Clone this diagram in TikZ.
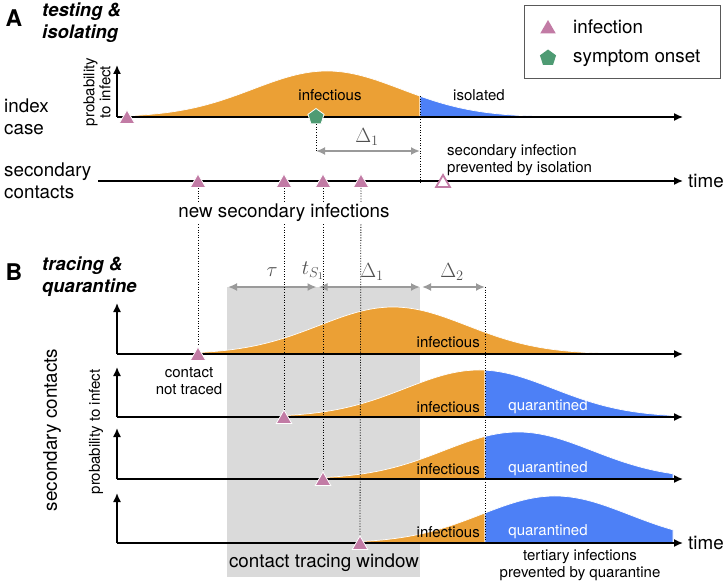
\documentclass[tikz,border=0pt]{standalone}
\usepackage{fix-cm}
\usepackage{fontspec}
\setmainfont{TeX Gyre Heros}
\usetikzlibrary{arrows.meta,shapes.geometric}
\definecolor{orng}{HTML}{EBA035}
\definecolor{blu}{HTML}{4D80F6}
\definecolor{pnk}{HTML}{C27BA5}
\definecolor{grn}{HTML}{4E9B73}
\definecolor{windowgray}{HTML}{DADADA}
\definecolor{dimgray}{HTML}{9A9A9A}
\definecolor{lblgray}{HTML}{505050}
\newcommand{\bigf}{\fontsize{18.8}{22}\selectfont}
\newcommand{\smf}{\fontsize{15}{16.5}\selectfont}
\newcommand{\mathf}{\fontsize{20.5}{23}\selectfont}
\newcommand{\crv}[6]{%
  \filldraw[fill=#1, draw=white, line width=0.7pt] (#5,#2) -- plot[domain=#5:#6, samples=80] (\x,{#2-#4*exp(-0.5*((\x-#3)/74)^2)}) -- (#6,#2) -- cycle;}
\begin{document}
\begin{tikzpicture}[x=1pt,y=-1pt,
  axis/.style={line width=1.5pt, -{Latex[length=9pt,width=8pt]}},
  dimarrow/.style={draw=dimgray, line width=1.8pt, {Latex[length=9pt,width=8pt]}-{Latex[length=9pt,width=8pt]}},
  dotline/.style={line width=0.8pt, dash pattern=on 1pt off 1.6pt},
  inf/.style={regular polygon, regular polygon sides=3, fill=pnk, draw=white, line width=0.8pt, minimum size=18pt, inner sep=0pt},
  infhollow/.style={regular polygon, regular polygon sides=3, fill=white, draw=pnk, line width=1.8pt, minimum size=16pt, inner sep=0pt},
  onset/.style={regular polygon, regular polygon sides=5, fill=grn, draw=white, line width=0.8pt, minimum size=17pt, inner sep=0pt},
  bigtxt/.style={font=\bigf, inner sep=1pt},
  smtxt/.style={font=\smf, inner sep=1pt},
  mlabel/.style={font=\mathf, text=lblgray, inner sep=1pt},
  paneltag/.style={font=\fontsize{23}{24}\selectfont\bfseries, inner sep=0pt},
  paneltitle/.style={font=\fontsize{18.5}{22}\selectfont\bfseries\itshape, align=left, anchor=west, inner sep=0pt}
]
\useasboundingbox (0,0) rectangle (727,585);

% ---------- gray contact tracing window ----------
\fill[windowgray] (227,287) rectangle (420,577);

% ---------- curves ----------
\crv{orng}{117}{327}{46}{127}{420}
\crv{blu}{117}{327}{46}{420}{532}
\crv{orng}{354}{393}{47}{198}{603}
\crv{orng}{417}{479}{47}{284}{485}
\crv{blu}{417}{479}{47}{485}{673}
\crv{orng}{479}{518}{47}{323}{485}
\crv{blu}{479}{518}{47}{485}{673}
\crv{orng}{543}{555}{47}{360}{485}
\crv{blu}{543}{555}{47}{485}{673}

% ---------- axes ----------
\coordinate (Ao) at (117,117); \coordinate (Atop) at (117,65); \coordinate (Aend) at (683,117);
\draw[axis] (Ao) -- (Atop);
\draw[axis] (Ao) -- (Aend);
\coordinate (So) at (98,181); \coordinate (Send) at (683,181);
\draw[axis] (So) -- (Send);
\foreach \r/\yb/\yt in {1/354/303, 2/417/367, 3/479/428, 4/543/493}{
  \coordinate (B\r o) at (117,\yb);
  \coordinate (B\r top) at (117,\yt);
  \coordinate (B\r end) at (683,\yb);
  \draw[axis] (B\r o) -- (B\r top);
  \draw[axis] (B\r o) -- (B\r end);
}

% ---------- dimension arrows ----------
\coordinate (dAl) at (316,151); \coordinate (dAr) at (420,151);
\draw[dimarrow] (dAl) -- (dAr);
\coordinate (tauL) at (228,287); \coordinate (tauR) at (316.5,287);
\coordinate (d1L) at (318.5,287); \coordinate (d1R) at (420,287);
\coordinate (d2L) at (422,287); \coordinate (d2R) at (485,287);
\draw[dimarrow] (tauL) -- (tauR);
\draw[dimarrow] (d1L) -- (d1R);
\draw[dimarrow] (d2L) -- (d2R);

% ---------- markers ----------
\node[inf] (a0) at (127,119) {};
\node[onset] (pent) at (316,117) {};
\node[inf] (s1) at (198,183) {};
\node[inf] (s2) at (284,183) {};
\node[inf] (s3) at (323,183) {};
\node[inf] (s4) at (361,183) {};
\node[infhollow] (s5) at (443,183) {};
\node[inf] (b1) at (198,356) {};
\node[inf] (b2) at (284,419) {};
\node[inf] (b3) at (323,481) {};
\node[inf] (b4) at (360,545) {};

% ---------- dotted guide lines ----------
\coordinate (isoTop) at (420,96); \coordinate (isoBot) at (420,182);
\draw[dotline] (isoTop) -- (isoBot);
\draw[dotline] (pent.south) -- (dAl);
\coordinate (qTop) at (485,287); \coordinate (qBot) at (485,543);
\draw[dotline] (qTop) -- (qBot);
\draw[dotline] (s1.south) -- (b1.north);
\draw[dotline] (s2.south) -- (b2.north);
\draw[dotline] (s3.south) -- (b3.north);
\draw[dotline] (s4.south) -- (b4.north);

% ---------- legend ----------
\node[draw=black!65, line width=0.8pt, minimum width=196pt, minimum height=73pt, inner sep=0pt] (legend) at (622,41.5) {};
\node[inf, draw=none] (legInf) at (548,29) {};
\node[onset, draw=none] (legOns) at (548,58) {};
\node[bigtxt, anchor=west] (legInfT) at (572,27) {infection};
\node[bigtxt, anchor=west] (legOnsT) at (572,58) {symptom onset};

% ---------- panel A texts ----------
\node[paneltag] (tagA) at (14,18) {A};
\node[paneltitle] (titA) at (42,22.5) {testing \&\\isolating};
\node[bigtxt, anchor=west, align=left] (idx) at (3,117) {index\\case};
\node[bigtxt, anchor=west, align=left] (sec) at (3,181) {secondary\\contacts};
\node[smtxt, rotate=90, align=center, font=\fontsize{15}{16}\selectfont] (probA) at (97,92) {probability\\to infect};
\node[smtxt] (infA) at (330,95) {infectious};
\node[smtxt, anchor=west] (isoA) at (452,95) {isolated};
\node[smtxt, anchor=west, align=left] (prevA) at (446,160) {secondary infection\\prevented by isolation};
\node[mlabel] (DA) at (367,137) {$\Delta_1$};
\node[bigtxt, anchor=west] (timeA) at (687,181) {time};
\node[bigtxt, fill=white, inner sep=2pt] (newsec) at (284,213) {new secondary infections};

% ---------- panel B texts ----------
\node[paneltag] (tagB) at (14,272) {B};
\node[paneltitle] (titB) at (42,276.5) {tracing \&\\quarantine};
\node[bigtxt, rotate=90] (secB) at (52,430) {secondary contacts};
\node[smtxt, rotate=90] (probB) at (96,432) {probability to infect};
\node[smtxt, align=center, font=\fontsize{15}{17}\selectfont] (nottr) at (189,381) {contact\\not traced};
\node[mlabel] (tauT) at (272,272) {$\tau$};
\node[mlabel] (tsT) at (313,271) {$t_{S_1}$};
\node[mlabel] (D1B) at (372,272) {$\Delta_1$};
\node[mlabel] (D2B) at (452,272) {$\Delta_2$};
\node[smtxt, anchor=east] (if1) at (481,342) {infectious};
\node[smtxt, anchor=east] (if2) at (481,407) {infectious};
\node[smtxt, anchor=east] (if3) at (481,469) {infectious};
\node[smtxt, anchor=east] (if4) at (481,532) {infectious};
\node[smtxt, text=white] (q2) at (548,407) {quarantined};
\node[smtxt, text=white] (q3) at (548,469) {quarantined};
\node[smtxt, text=white] (q4) at (548,532) {quarantined};
\node[bigtxt] (ctw) at (324,563) {contact tracing window};
\node[smtxt, align=center, font=\fontsize{15}{17}\selectfont] (tert) at (580,565) {tertiary infections\\prevented by quarantine};
\node[bigtxt, anchor=west] (timeB) at (687,543) {time};
\end{tikzpicture}
\end{document}
